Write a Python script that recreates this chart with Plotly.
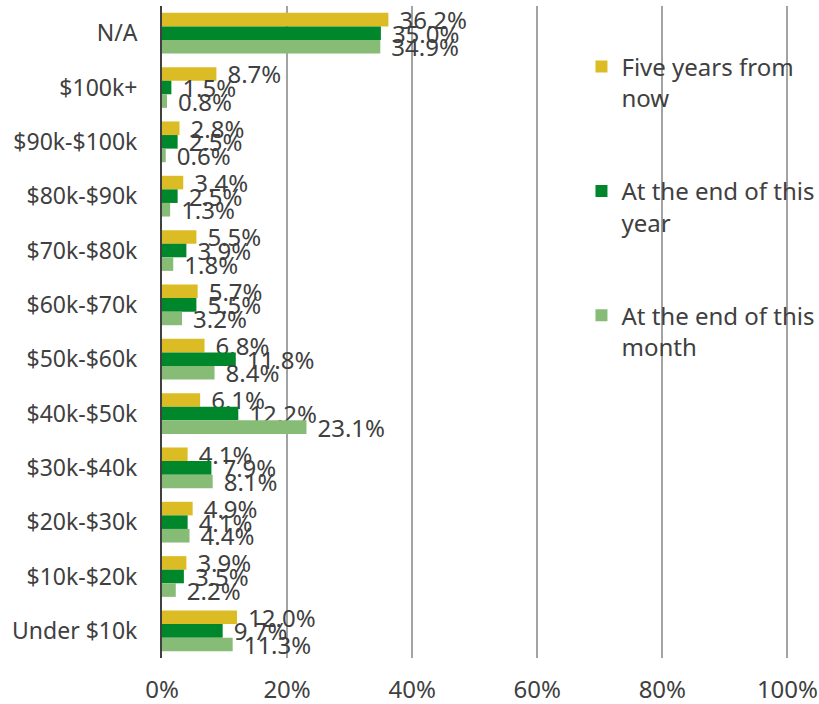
import plotly.graph_objects as go

# Income brackets, listed top to bottom
categories = ["N/A", "$100k+", "$90k-$100k", "$80k-$90k", "$70k-$80k", "$60k-$70k",
              "$50k-$60k", "$40k-$50k", "$30k-$40k", "$20k-$30k", "$10k-$20k", "Under $10k"]

five_years = [36.2, 8.7, 2.8, 3.4, 5.5, 5.7, 6.8, 6.1, 4.1, 4.9, 3.9, 12.0]
end_of_year = [35.0, 1.5, 2.5, 2.5, 3.9, 5.5, 11.8, 12.2, 7.9, 4.1, 3.5, 9.7]
end_of_month = [34.9, 0.8, 0.6, 1.3, 1.8, 3.2, 8.4, 23.1, 8.1, 4.4, 2.2, 11.3]

x_ticks = [0, 20, 40, 60, 80, 100]
x_tick_labels = ["0%", "20%", "40%", "60%", "80%", "100%"]

series = [
    ("Five years from<br>now", five_years, "#DBBC24"),
    ("At the end of this<br>year", end_of_year, "#00872B"),
    ("At the end of this<br>month", end_of_month, "#87BC77"),
]

FONT = "Noto Sans"
SIZE = 24
TEXT_COLOR = "#404040"

fig = go.Figure()
for i, (name, vals, color) in enumerate(series):
    fig.add_trace(go.Bar(
        y=categories, x=vals, name=name, orientation="h",
        marker=dict(color=color, line=dict(width=0)),
        texttemplate="\u2004%{x:.1f}%", textposition="outside",
        constraintext="none", cliponaxis=False,
        textfont=dict(family=FONT, size=SIZE, color=TEXT_COLOR),
        legendgroup=f"g{i}",
    ))

fig.update_layout(
    width=819, height=704,
    margin=dict(l=162, r=30, t=6, b=46, autoexpand=False),
    paper_bgcolor="white", plot_bgcolor="white",
    barmode="group", bargap=0.25, bargroupgap=0,
    font=dict(family=FONT, size=SIZE, color=TEXT_COLOR),
    showlegend=True,
    legend=dict(
        x=0.669, y=0.941, xanchor="left", yanchor="top",
        bgcolor="rgba(0,0,0,0)", traceorder="grouped",
        tracegroupgap=59, valign="top", itemwidth=30,
        font=dict(family=FONT, size=SIZE, color=TEXT_COLOR),
    ),
)

fig.update_xaxes(
    range=[0, 100.25], tickvals=x_ticks, ticktext=x_tick_labels,
    showgrid=True, gridcolor="#A3A3A3", gridwidth=1.5,
    zeroline=False, showline=False, automargin=False,
    ticklabelstandoff=15,
    tickfont=dict(family=FONT, size=SIZE, color=TEXT_COLOR),
)
fig.update_yaxes(
    autorange="reversed", showgrid=False,
    showline=True, linecolor="#404040", linewidth=2,
    ticklabelstandoff=18, automargin=False,
    tickfont=dict(family=FONT, size=23, color=TEXT_COLOR),
)

fig.write_html("out.html")
